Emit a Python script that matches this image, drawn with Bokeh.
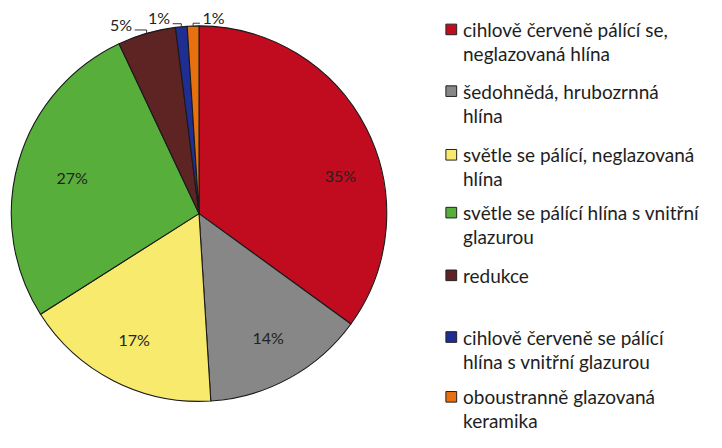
import math
from bokeh.plotting import figure
from bokeh.models import Range1d
from bokeh.core.properties import value
from bokeh.embed import file_html
from bokeh.resources import INLINE

# ---------------- data ----------------
categories = [
    "cihlově červeně pálící se,\nneglazovaná hlína",
    "šedohnědá, hrubozrnná\nhlína",
    "světle se pálící, neglazovaná\nhlína",
    "světle se pálící hlína s vnitřní\nglazurou",
    "redukce",
    "cihlově červeně se pálící\nhlína s vnitřní glazurou",
    "oboustranně glazovaná\nkeramika",
]
values = [35, 14, 17, 27, 5, 1, 1]
pct_labels = [f"{v}%" for v in values]

# ---------------- style ----------------
colors = ["#C00C1E", "#878787", "#F8EA6C", "#58AE3A", "#5E2323", "#1F2E90", "#E8700F"]
FONT = "Lato"
W, H = 706, 432          # canvas pixels
DW, DH = 722, 448        # data units (reference layout)
SX, SY = W / DW, H / DH
CX, CY, R = 203, DH - 221, 192
RY = R * SX / SY         # radius in y data units (wedge radius follows x scale)
label_radius = [150, 147, 146, 135, 212, 207, 204]
label_shift_deg = [11.6, 0, 0, 0, -5.9, -6.0, 6.0]
has_leader = [False, False, False, False, True, True, True]
legend_first_y = [30, 94, 160, 220, 285, 349, 411]   # reference px, line centres
legend_line_gap = 25
legend_x_box, legend_x_text = 461, 473

p = figure(width=W, height=H, x_range=Range1d(0, DW), y_range=Range1d(0, DH),
           output_backend="svg", toolbar_location=None,
           x_axis_type=None, y_axis_type=None, min_border=0)
p.grid.visible = False
p.outline_line_color = None
p.background_fill_color = "white"

total = float(sum(values))
cum = 0.0
starts, ends, mids = [], [], []
for v in values:
    a0 = math.pi / 2 - 2 * math.pi * cum / total
    cum += v
    a1 = math.pi / 2 - 2 * math.pi * cum / total
    starts.append(a0)
    ends.append(a1)
    mids.append((a0 + a1) / 2)

p.wedge(x=CX, y=CY, radius=R, start_angle=starts, end_angle=ends, direction="clock",
        fill_color=colors, line_color="#1a1a1a", line_width=1.1)

lx, ly = [], []
lead_xs, lead_ys = [], []
for i, m in enumerate(mids):
    a = m - math.radians(label_shift_deg[i])
    x = CX + label_radius[i] * math.cos(a)
    y = CY + label_radius[i] * math.sin(a)
    lx.append(x)
    ly.append(y)
    if has_leader[i]:
        px = CX + R * math.cos(m)
        py = CY + RY * math.sin(m)
        yh = y - 6
        edge = x + 14 if x < px else x - 14
        lead_xs.append([edge, px, px])
        lead_ys.append([yh, yh, py])

p.multi_line(xs=lead_xs, ys=lead_ys, line_color="#333333", line_width=1)
p.text(x=lx, y=ly, text=pct_labels, text_font=value(FONT), text_font_size="16px",
       text_color="#222222", text_align="center", text_baseline="middle")

# legend (drawn manually to allow wrapped labels)
bx, by = [], []
tx, ty, tt = [], [], []
for i, cat in enumerate(categories):
    y0 = DH - legend_first_y[i]
    bx.append(legend_x_box)
    by.append(y0)
    for j, line in enumerate(cat.split("\n")):
        tx.append(legend_x_text)
        ty.append(y0 - j * legend_line_gap)
        tt.append(line)
p.rect(x=bx, y=by, width=11, height=11, fill_color=colors, line_color="#222222", line_width=1)
p.text(x=tx, y=ty, text=tt, text_font=value(FONT), text_font_size="19px",
       text_color="#1e1e1e", text_align="left", text_baseline="middle")

open("out.html", "w").write(file_html(p, INLINE))
